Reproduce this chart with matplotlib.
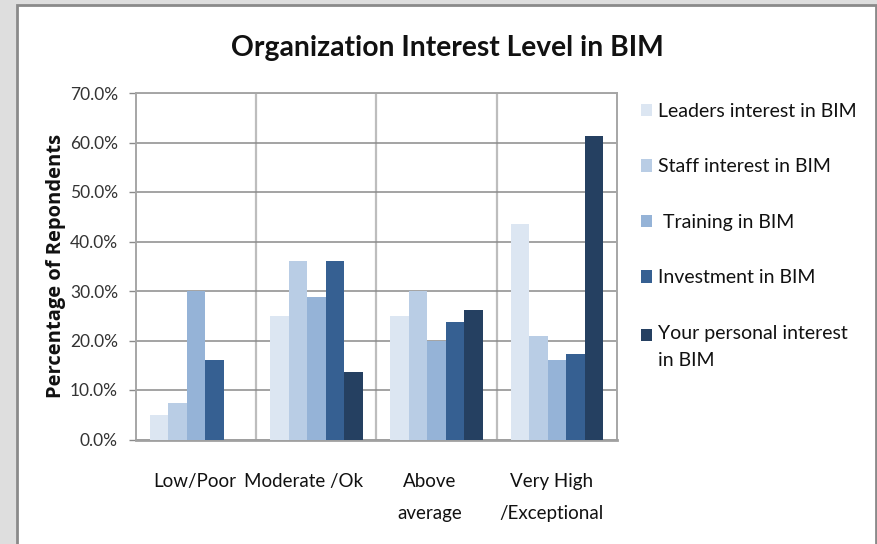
import matplotlib
matplotlib.use("Agg")
import matplotlib.pyplot as plt
from matplotlib.patches import Rectangle
from matplotlib.legend_handler import HandlerPatch
from matplotlib.ticker import FuncFormatter, MultipleLocator
from matplotlib.transforms import ScaledTranslation
import numpy as np

categories = ["Low/Poor", "Moderate /Ok", "Above\naverage", "Very High\n/Exceptional"]
series_names = ["Leaders interest in BIM", "Staff interest in BIM", " Training in BIM",
                "Investment in BIM", "Your personal interest\nin BIM"]
leaders = [4.9, 25.0, 25.0, 43.5]
staff = [7.3, 36.1, 30.0, 21.0]
training = [29.9, 28.7, 20.0, 16.0]
investment = [16.0, 36.1, 23.7, 17.2]
personal = [0.0, 13.6, 26.1, 61.3]
series = [leaders, staff, training, investment, personal]
colors = ["#DCE6F2", "#B9CDE5", "#95B3D7", "#366092", "#254061"]

plt.rcParams['font.family'] = ["Lato", "DejaVu Sans"]

W, H = 878, 544
fig = plt.figure(figsize=(W / 100, H / 100), dpi=100)
fig.patch.set_facecolor("#dedede")

# white chart area with gray border
fig.patches.append(Rectangle((17 / W, -0.05), (876 - 17) / W, (H - 5) / H + 0.05,
                             transform=fig.transFigure, facecolor="white",
                             edgecolor="#8a8a8a", linewidth=2, zorder=-5))

ax = fig.add_axes([136 / W, 1 - 439.5 / H, (617 - 136) / W, (439.5 - 93) / H])
ax.set_facecolor("white")

x = np.arange(len(categories))
bw = 0.154
handles = []
for i, (vals, c, name) in enumerate(zip(series, colors, series_names)):
    b = ax.bar(x + (i - 2) * bw, vals, width=bw, color=c, label=name, zorder=3,
               edgecolor="none")
    handles.append(b.patches[0])

ax.set_xlim(-0.5, 3.5)
ax.set_ylim(0, 70)
ax.yaxis.set_major_locator(MultipleLocator(10))
ax.yaxis.set_major_formatter(FuncFormatter(lambda v, p: f"{v:.1f}%"))
ax.set_xticks(x)
ax.set_xticklabels(categories, fontsize=13.5, linespacing=2.1, color="#111111")
ax.tick_params(axis="x", length=0, pad=24)
ax.tick_params(axis="y", direction="out", length=5, width=1, color="#8a8a8a",
               labelsize=12.5, labelcolor="#333333", pad=8)
ax.set_xticks([0.5, 1.5, 2.5], minor=True)
ax.grid(axis="y", which="major", color="#8a8a8a", linewidth=1.1, zorder=1)
ax.grid(axis="x", which="minor", color="#bdbdbd", linewidth=1.6, zorder=1)
ax.tick_params(axis="x", which="minor", length=0)
for s in ["left", "right", "top"]:
    ax.spines[s].set_color("#a6a6a6")
    ax.spines[s].set_linewidth(1.4)
ax.spines["bottom"].set_color("#a0a0a0")
ax.spines["bottom"].set_linewidth(2)
ax.set_axisbelow(True)

# small leftward nudges of category labels as in the reference
for lbl, dx in zip(ax.get_xticklabels(), [-1, -13, -7, -5]):
    lbl.set_transform(lbl.get_transform() + ScaledTranslation(dx / 100, 0, fig.dpi_scale_trans))

ax.set_ylabel("Percentage of Repondents", fontsize=14.5, fontweight="bold",
              fontfamily=["Open Sans", "DejaVu Sans"], labelpad=3, color="#111111")

fig.text(447 / W, 1 - 48 / H, "Organization Interest Level in BIM", ha="center",
         va="center", fontsize=20.3, fontweight="bold", color="#111111")


def top_patch(legend, orig_handle, xdescent, ydescent, width, height, fontsize):
    return Rectangle((-xdescent, -ydescent + fontsize * 0.62), width, height)


hmap = {handles[-1]: HandlerPatch(patch_func=top_patch)}
leg = fig.legend(handles=handles, labels=series_names, handler_map=hmap,
                 loc="upper left", bbox_to_anchor=(633 / W, 1 - 95 / H),
                 frameon=False, fontsize=14, handlelength=0.6, handleheight=0.6,
                 handletextpad=0.3, labelspacing=1.98, borderaxespad=0)
for t in leg.get_texts():
    t.set_color("#111111")
leg.get_texts()[-1].set_linespacing(1.75)

fig.savefig("out.png", dpi=100)
